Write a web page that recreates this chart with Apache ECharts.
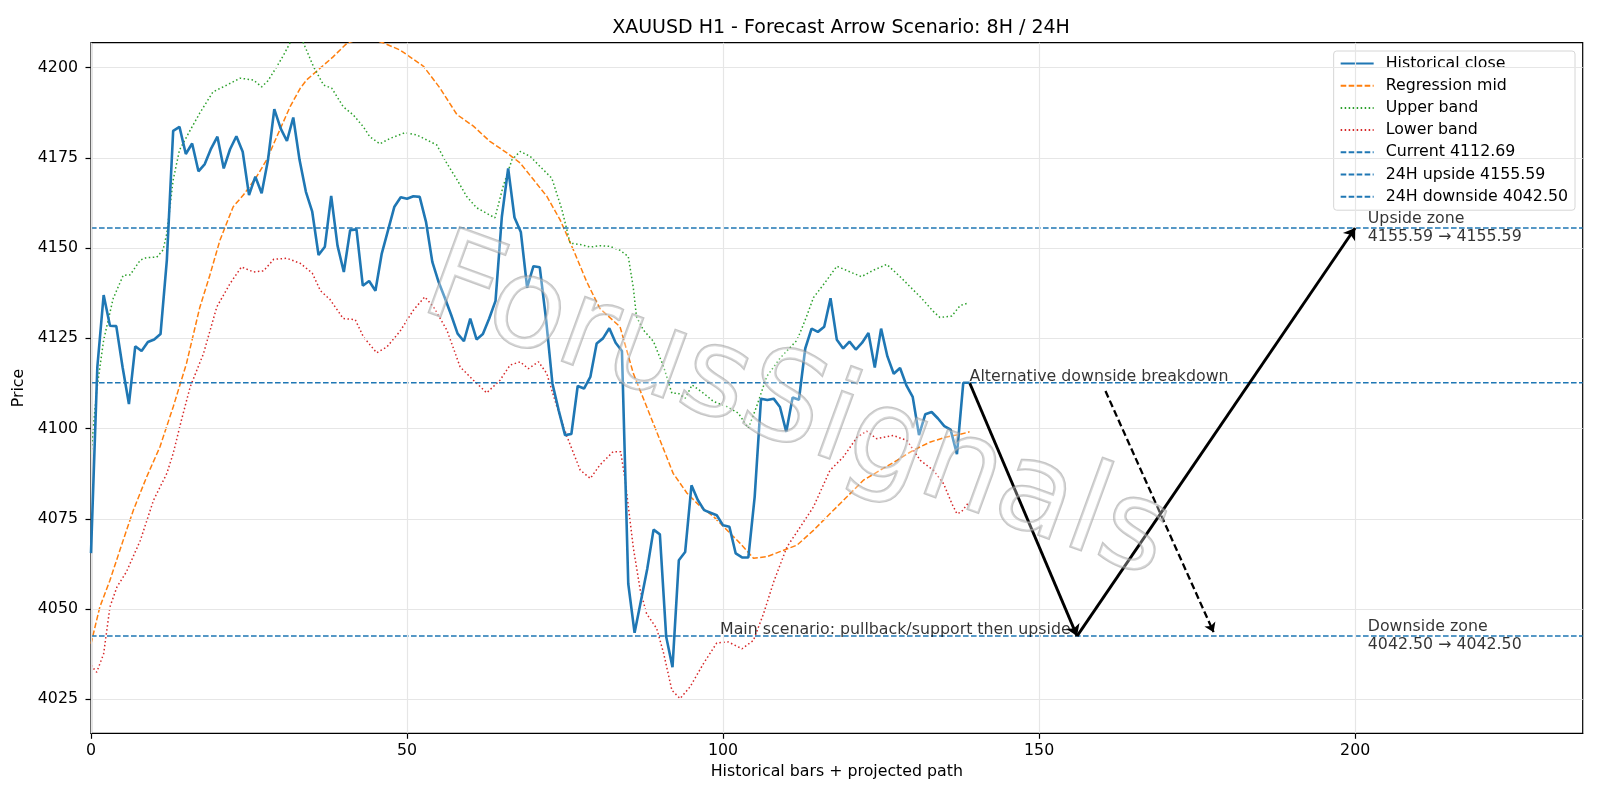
<!DOCTYPE html>
<html>
<head>
  <meta charset="UTF-8">
  <title>XAUUSD H1 forecast</title>
  <script src="https://cdn.jsdelivr.net/npm/echarts@6/dist/echarts.min.js"></script>
  <style>
    html, body { margin: 0; padding: 0; background: #fff; }
    #chart { width: 1600px; height: 800px; }
  </style>
</head>
<body>
  <div id="chart"></div>
  <script>
    // historical close, one value per bar (0..139)
    const closes = [
      4065.5, 4117.0, 4137.0, 4128.5, 4128.4, 4117.0, 4106.8, 4122.8, 4121.5, 4124.0,
      4124.7, 4126.2, 4146.7, 4182.5, 4183.6, 4176.1, 4179.0, 4171.3, 4173.3, 4177.6,
      4180.9, 4172.1, 4177.4, 4181.0, 4176.7, 4164.7, 4169.8, 4165.2, 4174.4, 4188.5,
      4183.2, 4179.7, 4186.2, 4174.4, 4165.6, 4160.1, 4148.1, 4150.4, 4164.5, 4150.7,
      4143.4, 4155.0, 4155.2, 4139.6, 4140.9, 4138.2, 4148.5, 4155.0, 4161.5, 4164.1,
      4163.7, 4164.4, 4164.2, 4157.3, 4146.2, 4140.6, 4136.1, 4131.4, 4126.3, 4124.2,
      4130.5, 4124.7, 4126.2, 4130.5, 4135.4, 4158.7, 4172.1, 4158.5, 4154.5, 4139.1,
      4145.0, 4144.7, 4130.2, 4112.5, 4105.0, 4098.2, 4098.5, 4111.8, 4111.1, 4114.3,
      4123.6, 4125.0, 4127.8, 4123.8, 4121.5, 4057.0, 4043.4, 4052.2, 4061.1, 4072.0,
      4070.7, 4042.3, 4033.9, 4063.5, 4065.8, 4084.3, 4080.2, 4077.4, 4076.7, 4076.0,
      4073.2, 4072.8, 4065.4, 4064.3, 4064.3, 4081.1, 4108.3, 4107.9, 4108.3, 4106.0,
      4099.1, 4108.6, 4108.0, 4122.2, 4127.7, 4126.8, 4128.2, 4136.1, 4124.6, 4122.2,
      4124.1, 4121.9, 4123.8, 4126.5, 4116.9, 4127.7, 4120.0, 4115.2, 4116.8, 4112.0,
      4108.8, 4098.2, 4104.0, 4104.6, 4102.8, 4100.7, 4099.7, 4092.9, 4112.7, 4112.69
    ];

    // regression mid, points [bar, price]
    const midLine = [
      [0, 4040.4], [1.4, 4050.6], [3.0, 4058.0], [5.1, 4069.1], [6.7, 4077.4], [8.8, 4086.6],
      [10.9, 4094.9], [13.0, 4106.0], [15.1, 4118.0], [17.2, 4133.5], [18.8, 4142.5], [20.4, 4152.2],
      [22.5, 4161.5], [24.1, 4164.7], [26.2, 4169.8], [27.8, 4174.5], [29.4, 4180.9], [31.5, 4189.2],
      [33.1, 4194.3], [34.1, 4196.6], [36.2, 4199.8], [38.3, 4203.0], [40.5, 4206.8], [43.5, 4208.5],
      [46.2, 4206.9], [48.9, 4204.9], [52.6, 4200.4], [55.2, 4194.4], [57.9, 4187.0], [60.5, 4183.8],
      [63.1, 4179.6], [65.8, 4176.4], [67.9, 4173.6], [70.0, 4169.0], [72.1, 4164.4], [74.2, 4157.9],
      [76.3, 4149.6], [78.4, 4140.8], [80.5, 4133.3], [83.7, 4128.2], [85.8, 4115.3], [87.9, 4106.1],
      [90.0, 4096.9], [92.1, 4087.6], [94.3, 4082.1], [96.4, 4078.4], [98.5, 4075.6], [100.6, 4071.9],
      [102.7, 4068.2], [104.8, 4064.1], [106.9, 4064.5], [109.0, 4065.9], [111.7, 4067.7], [114.3, 4071.8],
      [116.9, 4076.4], [119.6, 4081.1], [122.2, 4085.7], [124.8, 4088.4], [127.5, 4091.2], [130.1, 4094.0],
      [132.8, 4096.3], [135.4, 4097.7], [137.5, 4098.4], [139, 4099.1]
    ];

    const upperBand = [
      [0, 4093.1], [0.9, 4110.6], [2.0, 4124.5], [3.5, 4136.0], [5.1, 4142.5], [6.2, 4142.6],
      [7.8, 4146.7], [8.8, 4147.4], [10.4, 4147.5], [11.4, 4149.5], [12.0, 4154.1], [13.0, 4168.9],
      [14.0, 4177.2], [15.7, 4182.7], [17.2, 4187.4], [19.3, 4193.3], [21.5, 4195.2], [23.6, 4197.1],
      [25.7, 4196.6], [27.0, 4194.7], [28.0, 4196.4], [29.4, 4200.3], [30.4, 4203.3], [31.5, 4206.9],
      [32.5, 4208.0], [33.6, 4206.9], [35.2, 4200.3], [36.8, 4195.2], [38.1, 4194.3], [39.9, 4189.2],
      [41.5, 4186.9], [43.1, 4183.6], [44.1, 4180.9], [45.7, 4178.9], [47.3, 4180.4], [49.7, 4182.0],
      [51.5, 4181.4], [54.7, 4178.6], [56.3, 4173.5], [57.9, 4169.0], [59.4, 4164.4], [61.0, 4161.2],
      [63.9, 4158.4], [65.2, 4167.1], [66.6, 4174.5], [67.9, 4176.8], [69.5, 4175.4], [71.0, 4172.7],
      [72.9, 4169.4], [74.5, 4160.7], [75.8, 4151.4], [77.4, 4151.0], [79.0, 4150.3], [80.5, 4150.7],
      [82.1, 4150.5], [83.7, 4149.4], [85.0, 4147.7], [85.8, 4139.0], [86.3, 4131.0], [87.4, 4127.3],
      [89.0, 4124.1], [90.6, 4117.1], [91.9, 4109.8], [92.9, 4109.8], [94.0, 4108.4], [95.1, 4112.1],
      [96.9, 4109.8], [98.5, 4107.5], [100.6, 4106.1], [102.4, 4104.3], [104.0, 4100.1], [105.3, 4106.1],
      [106.9, 4114.4], [109.0, 4119.5], [111.7, 4124.5], [113.2, 4131.0], [114.3, 4136.3], [116.1, 4140.4],
      [118.0, 4145.0], [120.1, 4143.4], [121.9, 4142.1], [123.8, 4143.9], [125.9, 4145.5], [128.0, 4142.1],
      [130.1, 4138.4], [131.2, 4136.5], [133.3, 4132.4], [134.3, 4130.8], [136.2, 4131.2], [137.5, 4134.1],
      [138.8, 4134.8]
    ];

    const lowerBand = [
      [0, 4034.4], [0.9, 4032.5], [2.0, 4037.6], [3.0, 4050.6], [4.1, 4056.1], [5.6, 4060.3],
      [7.8, 4069.0], [9.9, 4080.2], [12.0, 4087.6], [13.0, 4093.1], [14.3, 4102.3], [15.7, 4111.6],
      [17.8, 4120.8], [19.9, 4133.7], [22.0, 4140.2], [23.8, 4144.8], [25.7, 4143.4], [27.3, 4143.7],
      [28.9, 4146.9], [31.0, 4147.2], [33.1, 4145.8], [35.0, 4143.1], [36.3, 4138.2], [37.8, 4135.8],
      [39.9, 4130.5], [41.8, 4130.2], [43.1, 4125.4], [45.2, 4121.0], [46.8, 4122.6], [48.9, 4127.0],
      [51.0, 4132.8], [52.8, 4136.5], [54.2, 4133.7], [56.3, 4127.3], [58.4, 4117.1], [60.5, 4113.4],
      [62.6, 4109.9], [64.7, 4113.4], [66.3, 4117.6], [67.9, 4118.5], [69.2, 4116.6], [70.8, 4118.5],
      [72.1, 4115.3], [73.7, 4106.1], [75.3, 4097.8], [77.4, 4088.5], [79.0, 4086.2], [80.5, 4089.9],
      [82.6, 4093.6], [83.8, 4093.6], [84.5, 4085.8], [85.8, 4067.0], [86.9, 4055.2], [87.9, 4048.7],
      [89.5, 4044.6], [90.6, 4037.7], [91.9, 4027.5], [93.2, 4025.2], [94.8, 4028.5], [96.9, 4034.9],
      [99.0, 4040.6], [100.8, 4040.9], [103.0, 4039.0], [104.8, 4041.3], [106.4, 4048.7], [108.0, 4057.5],
      [110.1, 4067.2], [112.2, 4072.7], [114.3, 4078.3], [116.9, 4088.4], [119.0, 4092.1], [121.2, 4097.6],
      [122.7, 4099.3], [124.3, 4097.2], [126.9, 4098.1], [129.1, 4096.7], [131.2, 4091.2], [133.3, 4088.4],
      [134.9, 4084.7], [136.2, 4079.2], [137.0, 4076.4], [137.7, 4076.9], [138.8, 4079.4]
    ];

    const currentPrice = 4112.69
    const upside24 = 4155.59
    const downside24 = 4042.50

    // projected path (bar, price)
    const mainPath = [[139, 4112.69], [156, 4042.50], [200, 4155.59]]
    const altPath = [[160.5, 4110.4], [177.6, 4043.6]]

    const xTicks = [0, 50, 100, 150, 200]
    const yTicks = [4025, 4050, 4075, 4100, 4125, 4150, 4175, 4200]
    const xRange = [0, 236]
    const yRange = [4015.57, 4206.93]

    const FONT = 'DejaVu Sans'
    const FS = 15.8
    const C0 = '#1f77b4'

    const chart = echarts.init(document.getElementById('chart'))

    function hline(name, v) {
      return {
        name: name, type: 'line', data: [[xRange[0], v], [xRange[1], v]],
        symbol: 'none', silent: true, z: 4,
        lineStyle: { color: C0, width: 1.5, type: [5.6, 2.4] }, itemStyle: { color: C0 }
      }
    }

    function note(text, pos, align, vAlign, offset) {
      return {
        type: 'scatter', data: [pos], symbolSize: 0, silent: true, z: 8,
        label: {
          show: true, position: [0, 0], formatter: text, align: align, verticalAlign: vAlign,
          offset: offset || [0, 0], fontFamily: FONT, fontSize: FS, lineHeight: 18, color: '#000'
        }
      }
    }

    const option = {
      animation: false,
      backgroundColor: '#fff',
      title: {
        text: 'XAUUSD H1 - Forecast Arrow Scenario: 8H / 24H',
        left: 836, top: 14, textAlign: 'center',
        textStyle: { fontFamily: FONT, fontSize: 19, fontWeight: 'normal', color: '#000' }
      },
      legend: {
        data: ['Historical close', 'Regression mid', 'Upper band', 'Lower band',
          'Current 4112.69', '24H upside 4155.59', '24H downside 4042.50'],
        orient: 'vertical', right: 25, top: 51,
        itemWidth: 33, itemHeight: 14, itemGap: 5.2,
        padding: [4, 7, 5, 6],
        itemStyle: { opacity: 0 },
        backgroundColor: 'rgba(255,255,255,0.85)', borderColor: '#d6d6d6', borderWidth: 1, borderRadius: 3,
        textStyle: { fontFamily: FONT, fontSize: FS, lineHeight: 17, color: '#000', padding: [0, 0, 0, 7] }
      },
      grid: {
        left: 91, right: 17.3, top: 42.7, bottom: 66.7,
        show: true, borderColor: '#000', borderWidth: 1.2, backgroundColor: 'transparent'
      },
      xAxis: {
        type: 'value', min: xRange[0], max: xRange[1],
        name: 'Historical bars + projected path', nameLocation: 'middle', nameGap: 30,
        nameTextStyle: { fontFamily: FONT, fontSize: FS, color: '#000' },
        axisLine: { show: true, onZero: false, lineStyle: { color: '#000', width: 1.2 } },
        axisTick: { show: true, length: 5.5, customValues: xTicks, lineStyle: { color: '#000', width: 1.2 } },
        axisLabel: { customValues: xTicks, margin: 10, fontFamily: FONT, fontSize: FS, color: '#000' },
        splitLine: { show: false }
      },
      yAxis: {
        type: 'value', min: yRange[0], max: yRange[1],
        name: 'Price', nameLocation: 'middle', nameGap: 46, nameRotate: 90,
        nameTextStyle: { fontFamily: FONT, fontSize: FS, color: '#000' },
        axisLine: { show: true, onZero: false, lineStyle: { color: '#000', width: 1.2 } },
        axisTick: { show: true, length: 5.5, customValues: yTicks, lineStyle: { color: '#000', width: 1.2 } },
        axisLabel: {
          customValues: yTicks, margin: 13, fontFamily: FONT, fontSize: FS, color: '#000',
          formatter: v => String(v)
        },
        splitLine: { show: false }
      },
      graphic: [{
        type: 'text', x: 796, y: 412, rotation: -0.35, z: 100, silent: true,
        style: {
          text: 'ForusSignals', font: '124px "DejaVu Sans"',
          align: 'center', verticalAlign: 'middle',
          fill: 'rgba(255,255,255,0.3)', stroke: 'rgba(150,150,150,0.55)', lineWidth: 2.4,
          shadowColor: 'rgba(0,0,0,0.25)', shadowBlur: 2, shadowOffsetX: 3, shadowOffsetY: 3
        }
      }],
      series: [
        {
          // grid lines
          type: 'line', data: [], silent: true, z: 0,
          markLine: {
            silent: true, symbol: 'none', label: { show: false },
            lineStyle: { color: '#e6e6e6', width: 1.2, type: 'solid' },
            data: yTicks.map(v => ({ yAxis: v })).concat(xTicks.map(v => ({ xAxis: v })))
          }
        },
        {
          name: 'Historical close', type: 'line', data: closes.map((v, i) => [i, v]),
          symbol: 'none', z: 5, lineStyle: { color: C0, width: 2.6 }, itemStyle: { color: C0 }
        },
        {
          name: 'Regression mid', type: 'line', data: midLine, symbol: 'none', z: 4,
          lineStyle: { color: '#ff7f0e', width: 1.5, type: [5.6, 2.4] }, itemStyle: { color: '#ff7f0e' }
        },
        {
          name: 'Upper band', type: 'line', data: upperBand, symbol: 'none', z: 4,
          lineStyle: { color: '#2ca02c', width: 1.5, type: [1.5, 2.5] }, itemStyle: { color: '#2ca02c' }
        },
        {
          name: 'Lower band', type: 'line', data: lowerBand, symbol: 'none', z: 4,
          lineStyle: { color: '#d62728', width: 1.5, type: [1.5, 2.5] }, itemStyle: { color: '#d62728' }
        },
        hline('Current 4112.69', currentPrice),
        hline('24H upside 4155.59', upside24),
        hline('24H downside 4042.50', downside24),
        {
          // main scenario arrows
          type: 'line', data: [], silent: true, z: 6,
          markLine: {
            silent: true, symbol: ['none', 'arrow'], symbolSize: 11, label: { show: false },
            lineStyle: { color: '#000', width: 2.9, type: 'solid' },
            data: [
              [{ coord: mainPath[0] }, { coord: mainPath[1] }],
              [{ coord: mainPath[1] }, { coord: mainPath[2] }]
            ]
          }
        },
        {
          // alternative arrow
          type: 'line', data: [], silent: true, z: 6,
          markLine: {
            silent: true, symbol: ['none', 'arrow'], symbolSize: 9, label: { show: false },
            lineStyle: { color: '#000', width: 2.3, type: [7, 3.5] },
            data: [[{ coord: altPath[0] }, { coord: altPath[1] }]]
          }
        },
        note('Alternative downside breakdown', [139, currentPrice], 'left', 'bottom', [0, 3]),
        note('Main scenario: pullback/support then upside', [155, downside24], 'right', 'bottom', [0, 3]),
        note('Upside zone\n4155.59 \u2192 4155.59', [202, upside24], 'left', 'middle'),
        note('Downside zone\n4042.50 \u2192 4042.50', [202, downside24], 'left', 'middle')
      ]
    }

    chart.setOption(option)
  </script>
</body>
</html>
